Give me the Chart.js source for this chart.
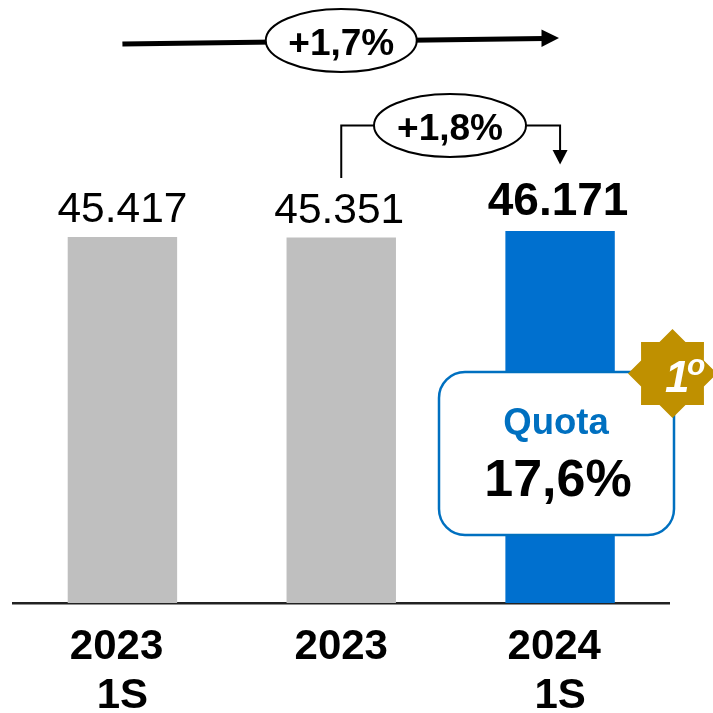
<!DOCTYPE html>
<html>
<head>
<meta charset="utf-8">
<script src="https://cdn.jsdelivr.net/npm/chart.js@4"></script>
<style>
    html, body { margin: 0; padding: 0; background: #fff; }
    canvas { display: block; }
</style>
</head>
<body>
<canvas id="quotaChart" width="713" height="713"></canvas>
<script>
const categories = [['2023 ', '1S'], ['2023'], ['2024 ', '1S']];
const values = [45417, 45351, 46171];
const barColors = ['#BFBFBF', '#BFBFBF', '#0070CF'];
const yMax = 74840;
const totalGrowth = '+1,7%';
const yearGrowth = '+1,8%';
const shareLabel = 'Quota';
const shareValue = '17,6%';

const FONT = '"Liberation Sans", Arial, sans-serif';

function drawEllipse(ctx, x, y, rx, ry, text) {
    ctx.beginPath();
    ctx.ellipse(x, y, rx, ry, 0, 0, Math.PI * 2);
    ctx.fillStyle = '#fff';
    ctx.fill();
    ctx.lineWidth = 2;
    ctx.strokeStyle = '#000';
    ctx.stroke();
    ctx.fillStyle = '#000';
    ctx.font = 'bold 37px ' + FONT;
    ctx.textAlign = 'center';
    ctx.textBaseline = 'alphabetic';
    ctx.fillText(text, x, y + 14.5);
}

// arrows, ovals, the share box and the badge
const overlay = {
    id: 'overlay',
    afterDatasetsDraw(chart) {
        const ctx = chart.ctx;
        const bars = chart.getDatasetMeta(0).data;
        ctx.save();

        // value labels
        ctx.textBaseline = 'alphabetic';
        ctx.textAlign = 'center';
        ctx.fillStyle = '#000';
        values.forEach((v, i) => {
            const text = String(v).replace(/(\d{3})$/, '.$1');
            const last = i === values.length - 1;
            ctx.font = (last ? 'bold 46px ' : '42.5px ') + FONT;
            ctx.fillText(text, bars[i].x - (last ? 2 : i === 1 ? 2 : 0), bars[i].y - (last ? 16 : 15));
        });

        // long arrow
        ctx.strokeStyle = '#000';
        ctx.lineWidth = 5;
        ctx.beginPath();
        ctx.moveTo(bars[0].x, 44);
        ctx.lineTo(544, 38.5);
        ctx.stroke();
        ctx.fillStyle = '#000';
        ctx.beginPath();
        ctx.moveTo(559, 38);
        ctx.lineTo(541.5, 29.5);
        ctx.lineTo(541.5, 47);
        ctx.closePath();
        ctx.fill();
        drawEllipse(ctx, bars[1].x, 40.5, 75.5, 31.5, totalGrowth);

        // bracket arrow
        ctx.lineWidth = 2;
        ctx.beginPath();
        ctx.moveTo(bars[1].x, 178);
        ctx.lineTo(bars[1].x, 125.5);
        ctx.lineTo(bars[2].x, 125.5);
        ctx.lineTo(bars[2].x, 151);
        ctx.stroke();
        ctx.beginPath();
        ctx.moveTo(bars[2].x, 164.5);
        ctx.lineTo(bars[2].x - 7.5, 150);
        ctx.lineTo(bars[2].x + 7.5, 150);
        ctx.closePath();
        ctx.fill();
        drawEllipse(ctx, 450, 125.5, 76, 31.5, yearGrowth);

        // share box
        ctx.beginPath();
        ctx.roundRect(439, 372, 235, 163, 26);
        ctx.fillStyle = '#fff';
        ctx.fill();
        ctx.lineWidth = 2.5;
        ctx.strokeStyle = '#0070C0';
        ctx.stroke();
        ctx.textAlign = 'center';
        ctx.fillStyle = '#0070C0';
        ctx.font = 'bold 36.5px ' + FONT;
        ctx.fillText(shareLabel, 556, 434);
        ctx.fillStyle = '#000';
        ctx.font = 'bold 52px ' + FONT;
        ctx.fillText(shareValue, 558, 496);

        // eight pointed badge
        const cx = 672.5, cy = 373.5, outer = 44.5, inner = 34;
        ctx.beginPath();
        for (let i = 0; i < 16; i++) {
            const r = i % 2 ? inner : outer;
            const a = i * Math.PI / 8;
            ctx.lineTo(cx + r * Math.sin(a), cy - r * Math.cos(a));
        }
        ctx.closePath();
        ctx.fillStyle = '#BF9000';
        ctx.fill();
        ctx.fillStyle = '#fff';
        ctx.textAlign = 'left';
        ctx.font = 'italic bold 44px ' + FONT;
        ctx.fillText('1', 665, 392);
        ctx.font = 'italic bold 30px ' + FONT;
        ctx.fillText('o', 687, 375);

        ctx.restore();
    }
};

new Chart(document.getElementById('quotaChart').getContext('2d'), {
    type: 'bar',
    data: {
        labels: categories,
        datasets: [{
            data: values,
            backgroundColor: barColors,
            barPercentage: 0.5,
            categoryPercentage: 1
        }]
    },
    options: {
        responsive: false,
        animation: false,
        layout: { padding: { left: 13, right: 43.5, top: 0, bottom: 0 } },
        plugins: { legend: { display: false }, tooltip: { enabled: false } },
        scales: {
            x: {
                afterFit(scale) { scale.height = 110; },
                grid: { display: false, drawTicks: false },
                border: { display: true, color: '#222', width: 2.5 },
                ticks: {
                    color: '#000',
                    padding: 20,
                    maxRotation: 0,
                    autoSkip: false,
                    font: { family: FONT, size: 42, weight: 'bold', lineHeight: 1.17 }
                }
            },
            y: { display: false, min: 0, max: yMax }
        }
    },
    plugins: [overlay]
});
</script>
</body>
</html>
